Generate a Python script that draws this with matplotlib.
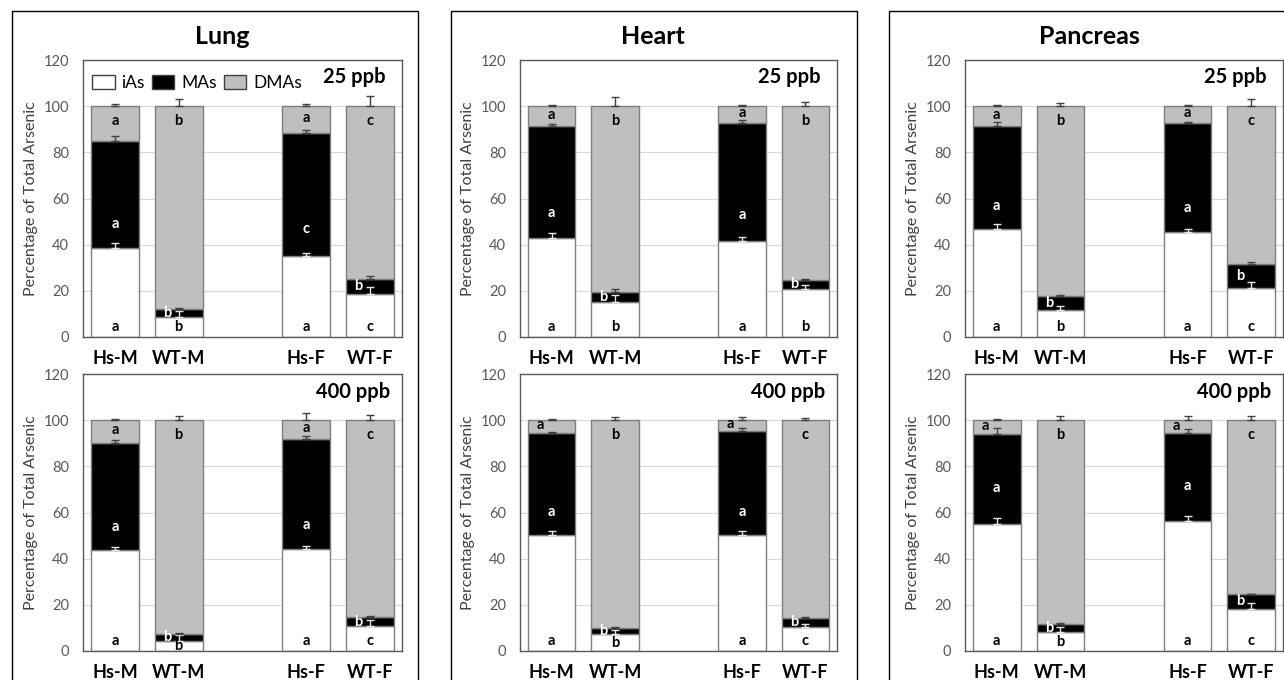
import matplotlib.pyplot as plt
from matplotlib.patches import Patch, Rectangle

plt.rcParams["font.family"] = ["Lato", "DejaVu Sans"]

groups = ["Hs-M", "WT-M", "Hs-F", "WT-F"]
species = ["iAs", "MAs", "DMAs"]
organs = ["Lung", "Heart", "Pancreas"]
doses = ["25 ppb", "400 ppb"]

# percent of total arsenic, rows = iAs, MAs, DMAs; columns follow `groups`
lung_25_pct = [[38.5, 8.8, 35.1, 18.8],
               [46.6, 3.2, 53.3, 6.3],
               [14.9, 88.0, 11.6, 74.9]]
lung_25_err = [[2.3, 2.5, 1.3, 3.0],
               [2.0, 0.5, 1.3, 1.4],
               [1.0, 3.0, 1.0, 4.3]]
lung_25_sig = ["abac", "abcb", "abac"]

lung_400_pct = [[43.7, 4.5, 44.0, 10.8],
                [46.5, 2.9, 47.8, 3.9],
                [9.8, 92.6, 8.2, 85.3]]
lung_400_err = [[1.5, 2.3, 1.6, 2.6],
                [1.1, 0.3, 1.3, 0.5],
                [0.3, 1.7, 2.9, 2.3]]
lung_400_sig = ["abac", "abab", "abac"]

heart_25_pct = [[42.9, 15.0, 41.8, 20.7],
                [48.4, 4.7, 51.1, 4.2],
                [8.7, 80.3, 7.1, 75.1]]
heart_25_err = [[2.0, 3.4, 1.5, 1.9],
                [1.0, 1.1, 1.3, 0.3],
                [0.6, 3.9, 0.6, 1.7]]
heart_25_sig = ["abab", "abab", "abab"]

heart_400_pct = [[50.3, 7.3, 50.3, 10.6],
                 [44.1, 2.5, 45.0, 3.8],
                 [5.6, 90.2, 4.7, 85.6]]
heart_400_err = [[1.5, 1.8, 1.8, 1.0],
                 [0.6, 0.5, 1.3, 0.3],
                 [0.4, 1.2, 1.2, 1.0]]
heart_400_sig = ["abac", "abab", "abac"]

pancreas_25_pct = [[47.0, 11.7, 45.7, 21.3],
                   [44.2, 6.1, 46.8, 10.3],
                   [8.8, 82.2, 7.5, 68.4]]
pancreas_25_err = [[2.0, 1.6, 1.0, 2.6],
                   [2.0, 0.6, 0.5, 1.0],
                   [0.6, 1.3, 0.4, 3.3]]
pancreas_25_sig = ["abac", "abab", "abac"]

pancreas_400_pct = [[54.9, 8.1, 56.5, 18.4],
                    [39.3, 3.6, 37.8, 6.1],
                    [5.8, 88.3, 5.7, 75.5]]
pancreas_400_err = [[2.6, 2.5, 2.1, 2.5],
                    [2.2, 0.5, 1.9, 0.4],
                    [0.4, 1.7, 1.7, 1.7]]
pancreas_400_sig = ["abac", "abab", "abac"]

panels = {
    ("Lung", "25 ppb"): (lung_25_pct, lung_25_err, lung_25_sig),
    ("Lung", "400 ppb"): (lung_400_pct, lung_400_err, lung_400_sig),
    ("Heart", "25 ppb"): (heart_25_pct, heart_25_err, heart_25_sig),
    ("Heart", "400 ppb"): (heart_400_pct, heart_400_err, heart_400_sig),
    ("Pancreas", "25 ppb"): (pancreas_25_pct, pancreas_25_err, pancreas_25_sig),
    ("Pancreas", "400 ppb"): (pancreas_400_pct, pancreas_400_err, pancreas_400_sig),
}

fills = ["white", "black", "#bfbfbf"]
err_colors = ["#e6e6e6", "#404040", "#404040"]
sig_colors = ["black", "white", "black"]

W, H = 1284, 680
fig = plt.figure(figsize=(W / 100, H / 100), dpi=100)

col_x = [(83, 402), (520, 837), (965, 1283)]
row_y = [(60, 337), (374, 651)]
box_x = [(12, 418), (451, 857), (889, 1295)]
title_x = [222, 653, 1089]


def px_rect(x0, x1, y0, y1):
    return [x0 / W, 1 - y1 / H, (x1 - x0) / W, (y1 - y0) / H]


def draw_panel(ax, pct, err, sig, dose, mas_frac=0.22):
    xpos = [0, 1, 3, 4]
    bottom = [0.0] * 4
    for k in range(3):
        ax.bar(xpos, pct[k], 0.75, bottom=bottom, color=fills[k],
               edgecolor="#7f7f7f", linewidth=1, zorder=2)
        tops = [b + v for b, v in zip(bottom, pct[k])]
        ax.errorbar(xpos, tops, yerr=[[0] * 4, err[k]], fmt="none",
                    ecolor=err_colors[k], elinewidth=1, capsize=3,
                    capthick=1, zorder=3)
        for i, x in enumerate(xpos):
            seg = pct[k][i]
            lx = x
            if k == 0:
                ly = min(4.5, seg / 2)
            elif k == 1:
                if seg < 15:
                    ly = bottom[i] + seg / 2
                    lx = x - 0.18
                else:
                    ly = bottom[i] + mas_frac * seg
            else:
                if seg < 6.5:
                    ly = bottom[i] + seg / 2 + 0.5
                    lx = x - 0.18
                else:
                    ly = max(bottom[i] + seg / 2 + 0.7, 93.5)
            ax.text(lx, ly, sig[k][i], ha="center", va="center",
                    fontsize=10.5, fontweight="bold", color=sig_colors[k],
                    zorder=4)
        bottom = tops

    ax.set_xlim(-0.5, 4.5)
    ax.set_ylim(0, 120)
    ax.set_yticks(range(0, 121, 20))
    ax.set_xticks(xpos)
    ax.set_xticklabels(groups, fontsize=13, fontweight="bold")
    ax.tick_params(axis="x", length=0, pad=9)
    ax.tick_params(axis="y", length=0, pad=10, labelsize=10.5,
                   labelcolor="#595959")
    ax.grid(axis="y", color="#d9d9d9", linewidth=0.8)
    ax.set_axisbelow(True)
    for s in ax.spines.values():
        s.set_color("#595959")
        s.set_linewidth(1)
    ax.set_ylabel("Percentage of Total Arsenic", fontsize=11.5,
                  color="#404040", labelpad=4)
    tx, ty = (0.948, 0.94) if dose == "25 ppb" else (0.963, 0.935)
    ax.text(tx, ty, dose, transform=ax.transAxes, ha="right", va="center",
            fontsize=14.5, fontweight="bold")


for c, organ in enumerate(organs):
    bx0, bx1 = box_x[c]
    fig.patches.append(Rectangle((bx0 / W, -0.05), (bx1 - bx0) / W,
                                 1.05 - 11 / H, transform=fig.transFigure,
                                 fill=False, edgecolor="black",
                                 linewidth=1, clip_on=False))
    fig.text(title_x[c] / W, 1 - 36 / H, organ, ha="center",
             va="center", fontsize=18, fontweight="bold")
    for r, dose in enumerate(doses):
        ax = fig.add_axes(px_rect(col_x[c][0], col_x[c][1],
                                  row_y[r][0], row_y[r][1]))
        pct, err, sig = panels[(organ, dose)]
        frac = 0.4 if (organ, dose) == ("Pancreas", "400 ppb") else 0.22
        draw_panel(ax, pct, err, sig, dose, mas_frac=frac)
        if (organ, dose) == ("Lung", "25 ppb"):
            handles = [Patch(facecolor=f, edgecolor="#404040", linewidth=1)
                       for f in fills]
            ax.legend(handles, species, loc="center left",
                      bbox_to_anchor=(0.028, 0.917), ncol=3, frameon=False,
                      fontsize=12.5, handlelength=1.3, handleheight=0.8,
                      handletextpad=0.4, columnspacing=0.4, borderpad=0,
                      borderaxespad=0)

fig.savefig("out.png", dpi=100)
